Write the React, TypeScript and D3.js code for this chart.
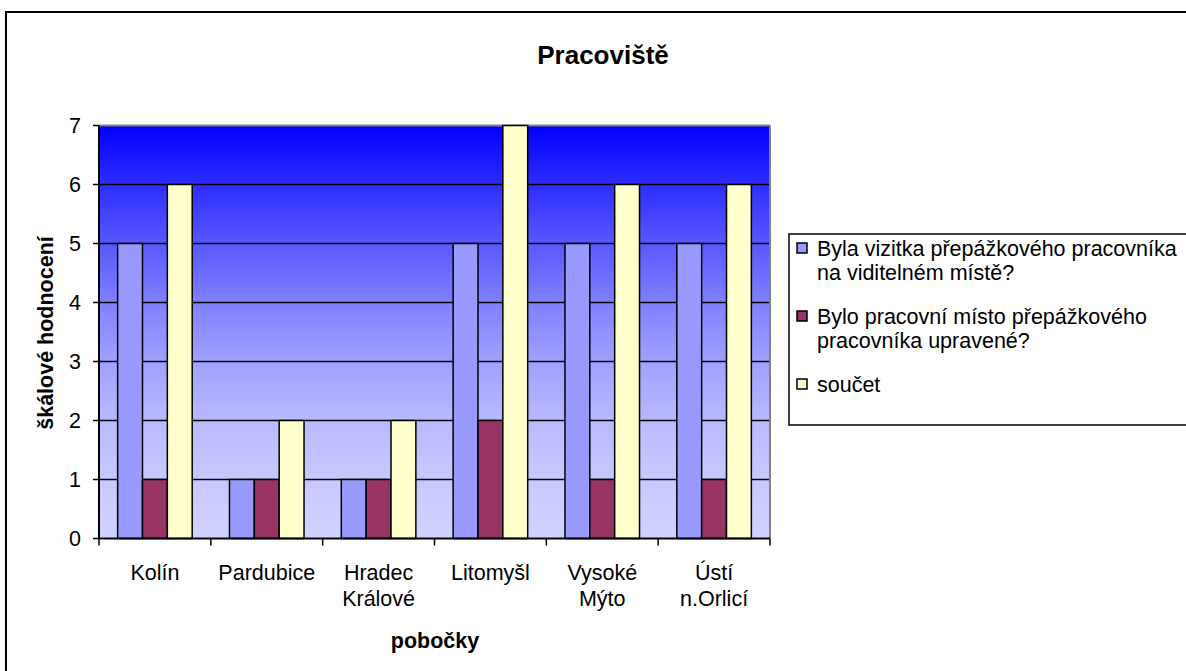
import React from "react";
import * as d3 from "d3";

const categories = [["Kolín"], ["Pardubice"], ["Hradec", "Králové"], ["Litomyšl"], ["Vysoké", "Mýto"], ["Ústí", "n.Orlicí"]];
const seriesNames = [
  ["Byla vizitka přepážkového pracovníka", "na viditelném místě?"],
  ["Bylo pracovní místo přepážkového", "pracovníka upravené?"],
  ["součet"],
];
const vizitka = [5, 1, 1, 5, 5, 5];
const pracovniMisto = [1, 1, 1, 2, 1, 1];
const soucet = [6, 2, 2, 7, 6, 6];
const yTicks = [0, 1, 2, 3, 4, 5, 6, 7];
const colors = ["#9999FF", "#993366", "#FFFFCC"];

const W = 1186;
const H = 671;
const plot = { left: 99, right: 770, top: 125.5, bottom: 538.5 };
const FONT = "'Liberation Sans', Arial, sans-serif";
const FS = 21.5;

export default function App() {
  const series = [vizitka, pracovniMisto, soucet];
  const x0 = d3
    .scaleBand<number>()
    .domain(d3.range(categories.length))
    .range([plot.left, plot.right]);
  // 150% gap width: each group is 3 bars, gap = 1.5 bars
  const barW = x0.bandwidth() / 4.5;
  const y = d3.scaleLinear().domain([0, 7]).range([plot.bottom, plot.top]);

  return (
    <svg
      width={W}
      height={H}
      style={{ position: "absolute", left: 0, top: 0, fontFamily: FONT }}
    >
      <defs>
        <linearGradient id="plotBg" x1="0" y1="0" x2="0" y2="1">
          <stop offset="0" stopColor="rgb(0,0,255)" />
          <stop offset="0.143" stopColor="rgb(45,45,255)" />
          <stop offset="0.286" stopColor="rgb(88,88,255)" />
          <stop offset="0.43" stopColor="rgb(128,128,255)" />
          <stop offset="0.57" stopColor="rgb(160,160,255)" />
          <stop offset="0.714" stopColor="rgb(185,185,255)" />
          <stop offset="0.857" stopColor="rgb(200,200,255)" />
          <stop offset="1" stopColor="rgb(210,210,255)" />
        </linearGradient>
      </defs>
      <rect x={0} y={0} width={W} height={H} fill="#fff" />
      {/* chart frame */}
      <rect x={6} y={12} width={W + 20} height={H + 20} fill="none" stroke="#000" strokeWidth={2} />

      <text x={603} y={64} textAnchor="middle" fontSize={26} fontWeight="bold">
        Pracoviště
      </text>

      {/* plot area */}
      <rect
        x={plot.left}
        y={plot.top}
        width={plot.right - plot.left}
        height={plot.bottom - plot.top}
        fill="url(#plotBg)"
      />
      {yTicks.slice(1).map((t) => (
        <line
          key={"g" + t}
          x1={plot.left}
          x2={plot.right}
          y1={y(t)}
          y2={y(t)}
          stroke={t === 7 ? "#808080" : "#000"}
          strokeWidth={t === 7 ? 2 : 1.5}
        />
      ))}
      <line x1={plot.right} x2={plot.right} y1={plot.top} y2={plot.bottom} stroke="#808080" strokeWidth={2} />

      {/* bars */}
      {series.map((vals, si) =>
        vals.map((v, ci) => {
          const bx = (x0(ci) as number) + barW * 0.75 + si * barW;
          return (
            <rect
              key={si + "-" + ci}
              x={bx}
              y={y(v)}
              width={barW}
              height={y(0) - y(v)}
              fill={colors[si]}
              stroke="#000"
              strokeWidth={1.5}
            />
          );
        })
      )}

      {/* axes */}
      <line x1={plot.left} x2={plot.left} y1={plot.top} y2={plot.bottom + 0.5} stroke="#000" strokeWidth={2} />
      <line x1={plot.left} x2={plot.right} y1={plot.bottom} y2={plot.bottom} stroke="#000" strokeWidth={2} />
      {yTicks.map((t) => (
        <g key={"yt" + t}>
          <line x1={plot.left - 6} x2={plot.left} y1={y(t)} y2={y(t)} stroke="#000" strokeWidth={1.5} />
          <text x={81} y={y(t)} dy="0.36em" textAnchor="end" fontSize={FS}>
            {t}
          </text>
        </g>
      ))}
      {d3.range(categories.length + 1).map((i) => {
        const tx = plot.left + i * x0.step();
        return <line key={"xt" + i} x1={tx} x2={tx} y1={plot.bottom} y2={plot.bottom + 7} stroke="#000" strokeWidth={1.5} />;
      })}
      {categories.map((lines, ci) => (
        <text
          key={"c" + ci}
          x={(x0(ci) as number) + x0.bandwidth() / 2}
          y={580}
          textAnchor="middle"
          fontSize={FS}
        >
          {lines.map((l, li) => (
            <tspan key={li} x={(x0(ci) as number) + x0.bandwidth() / 2} dy={li === 0 ? 0 : 26}>
              {l}
            </tspan>
          ))}
        </text>
      ))}

      <text x={435} y={648} textAnchor="middle" fontSize={FS} fontWeight="bold">
        pobočky
      </text>
      <text
        transform={`translate(53, 333) rotate(-90)`}
        textAnchor="middle"
        fontSize={FS}
        fontWeight="bold"
      >
        škálové hodnocení
      </text>

      {/* legend */}
      <rect x={789} y={234} width={420} height={191} fill="#fff" stroke="#000" strokeWidth={1.5} />
      {seriesNames.map((lines, si) => {
        const top = 248 + si * 68;
        return (
          <g key={"l" + si}>
            <rect x={797} y={top - 5} width={10} height={10} fill={colors[si]} stroke="#000" strokeWidth={1.5} />
            {lines.map((l, li) => (
              <text key={li} x={817} y={top + li * 24} dy="0.36em" fontSize={FS}>
                {l}
              </text>
            ))}
          </g>
        );
      })}
    </svg>
  );
}
